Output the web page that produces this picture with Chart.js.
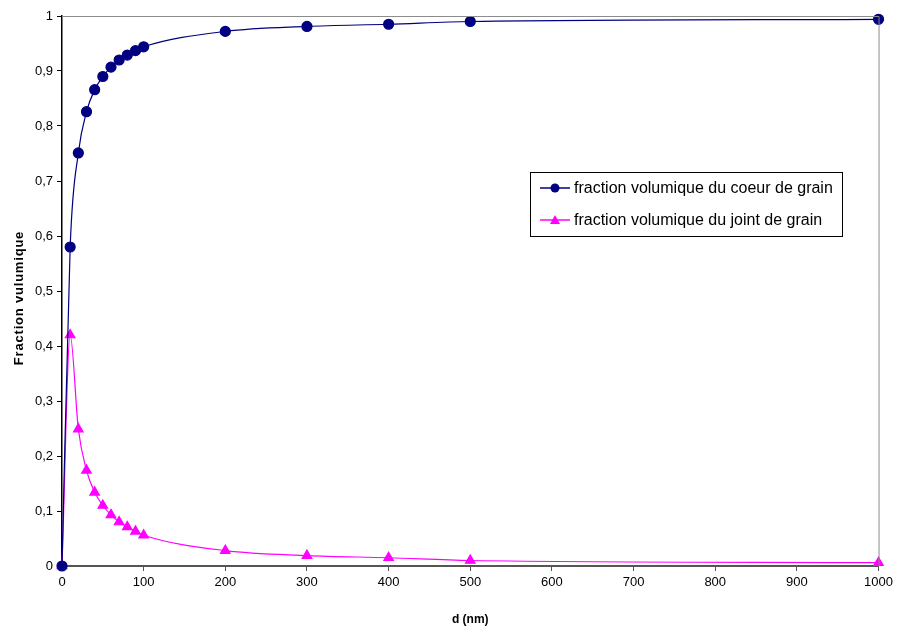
<!DOCTYPE html>
<html>
<head>
<meta charset="utf-8">
<script src="https://cdn.jsdelivr.net/npm/chart.js@4"></script>
<style>
  html, body { margin: 0; padding: 0; background: #fff; }
  #wrap { width: 897px; height: 631px; }
</style>
</head>
<body>
<div id="wrap"><canvas id="chart" width="897" height="631"></canvas></div>
<script>
// diamètre de grain (nm)
const diameters = [0, 10, 20, 30, 40, 50, 60, 70, 80, 90, 100, 200, 300, 400, 500, 1000];
const coeurValues = [0, 0.58, 0.751, 0.826, 0.866, 0.89, 0.907, 0.92, 0.929, 0.937, 0.944, 0.972, 0.981, 0.985, 0.99, 0.994];
const jointValues = [0, 0.42, 0.249, 0.174, 0.134, 0.11, 0.093, 0.08, 0.071, 0.063, 0.056, 0.028, 0.019, 0.015, 0.01, 0.006];
const seriesLabels = ['fraction volumique du coeur de grain', 'fraction volumique du joint de grain'];
const yTitle = 'Fraction vulumique';
const xTitle = 'd (nm)';

const FONT = 'Liberation Sans, Arial, sans-serif';

function toPoints(values) {
    return diameters.map((d, i) => ({ x: d, y: values[i] }));
}

// cadre gris en haut et à droite, titre de l'axe Y, légende encadrée
const framePlugin = {
    id: 'frame',
    afterDraw(chart) {
        const ctx = chart.ctx;
        const a = chart.chartArea;
        ctx.save();
        ctx.strokeStyle = '#8c8c8c';
        ctx.lineWidth = 1;
        ctx.beginPath();
        ctx.moveTo(a.left, a.top + 0.5);
        ctx.lineTo(a.right + 0.5, a.top + 0.5);
        ctx.lineTo(a.right + 0.5, a.bottom);
        ctx.stroke();

        // titre Y, un peu espacé comme dans Excel
        ctx.save();
        ctx.translate(19, (a.top + a.bottom) / 2 + 7);
        ctx.rotate(-Math.PI / 2);
        ctx.font = 'bold 13px ' + FONT;
        ctx.letterSpacing = '0.8px';
        ctx.fillStyle = '#000';
        ctx.textAlign = 'center';
        ctx.textBaseline = 'middle';
        ctx.fillText(yTitle, 0, 0);
        ctx.restore();

        // légende
        const lx = 530, ly = 172, lw = 312, lh = 64;
        ctx.fillStyle = '#ffffff';
        ctx.fillRect(lx, ly, lw, lh);
        ctx.strokeStyle = '#000';
        ctx.strokeRect(lx + 0.5, ly + 0.5, lw, lh);
        ctx.font = '16px ' + FONT;
        ctx.textBaseline = 'middle';
        chart.data.datasets.forEach((ds, i) => {
            const y = ly + 16 + i * 32;
            ctx.strokeStyle = ds.borderColor;
            ctx.lineWidth = 1.5;
            ctx.beginPath();
            ctx.moveTo(lx + 10, y);
            ctx.lineTo(lx + 40, y);
            ctx.stroke();
            ctx.fillStyle = ds.pointBackgroundColor;
            ctx.beginPath();
            if (ds.pointStyle === 'triangle') {
                ctx.moveTo(lx + 25, y - 5);
                ctx.lineTo(lx + 30, y + 4);
                ctx.lineTo(lx + 20, y + 4);
                ctx.closePath();
            } else {
                ctx.arc(lx + 25, y, 4.5, 0, Math.PI * 2);
            }
            ctx.fill();
            ctx.fillStyle = '#000';
            ctx.fillText(ds.label, lx + 44, y + 1);
        });
        ctx.restore();
    }
};

new Chart(document.getElementById('chart'), {
    type: 'line',
    data: {
        datasets: [
            {
                label: seriesLabels[0],
                data: toPoints(coeurValues),
                borderColor: '#000080',
                backgroundColor: '#000080',
                pointBackgroundColor: '#000080',
                pointBorderColor: '#000080',
                pointStyle: 'circle',
                pointRadius: 5,
                borderWidth: 1.2,
                cubicInterpolationMode: 'monotone'
            },
            {
                label: seriesLabels[1],
                data: toPoints(jointValues),
                borderColor: '#ff00ff',
                backgroundColor: '#ff00ff',
                pointBackgroundColor: '#ff00ff',
                pointBorderColor: '#ff00ff',
                pointStyle: 'triangle',
                pointRadius: 5.5,
                borderWidth: 1.2,
                cubicInterpolationMode: 'monotone'
            }
        ]
    },
    options: {
        responsive: false,
        animation: false,
        clip: false,
        layout: { padding: { top: 16, right: 18, left: 0, bottom: 0 } },
        plugins: {
            legend: { display: false },
            tooltip: { enabled: false }
        },
        scales: {
            x: {
                type: 'linear',
                min: 0,
                max: 1000,
                ticks: {
                    stepSize: 100,
                    color: '#000',
                    font: { family: FONT, size: 13 },
                    padding: 4,
                    maxRotation: 0,
                    callback: v => String(v)
                },
                grid: { drawOnChartArea: false, drawTicks: true, tickLength: 5, color: '#555' },
                border: { color: '#555', width: 2 },
                title: { display: true, text: xTitle, color: '#000', font: { family: FONT, size: 12, weight: 'bold' }, padding: { top: 10 } },
                afterFit(scale) { scale.height = 65; }
            },
            y: {
                min: 0,
                max: 1,
                ticks: {
                    stepSize: 0.1,
                    color: '#000',
                    font: { family: FONT, size: 13 },
                    padding: 4,
                    callback: v => {
                        const r = Math.round(v * 10) / 10;
                        return String(r).replace('.', ',');
                    }
                },
                grid: { drawOnChartArea: false, drawTicks: true, tickLength: 5, color: '#000' },
                border: { color: '#000', width: 1.5 },
                afterFit(scale) { scale.width = 62; }
            }
        }
    },
    plugins: [framePlugin]
});
</script>
</body>
</html>
